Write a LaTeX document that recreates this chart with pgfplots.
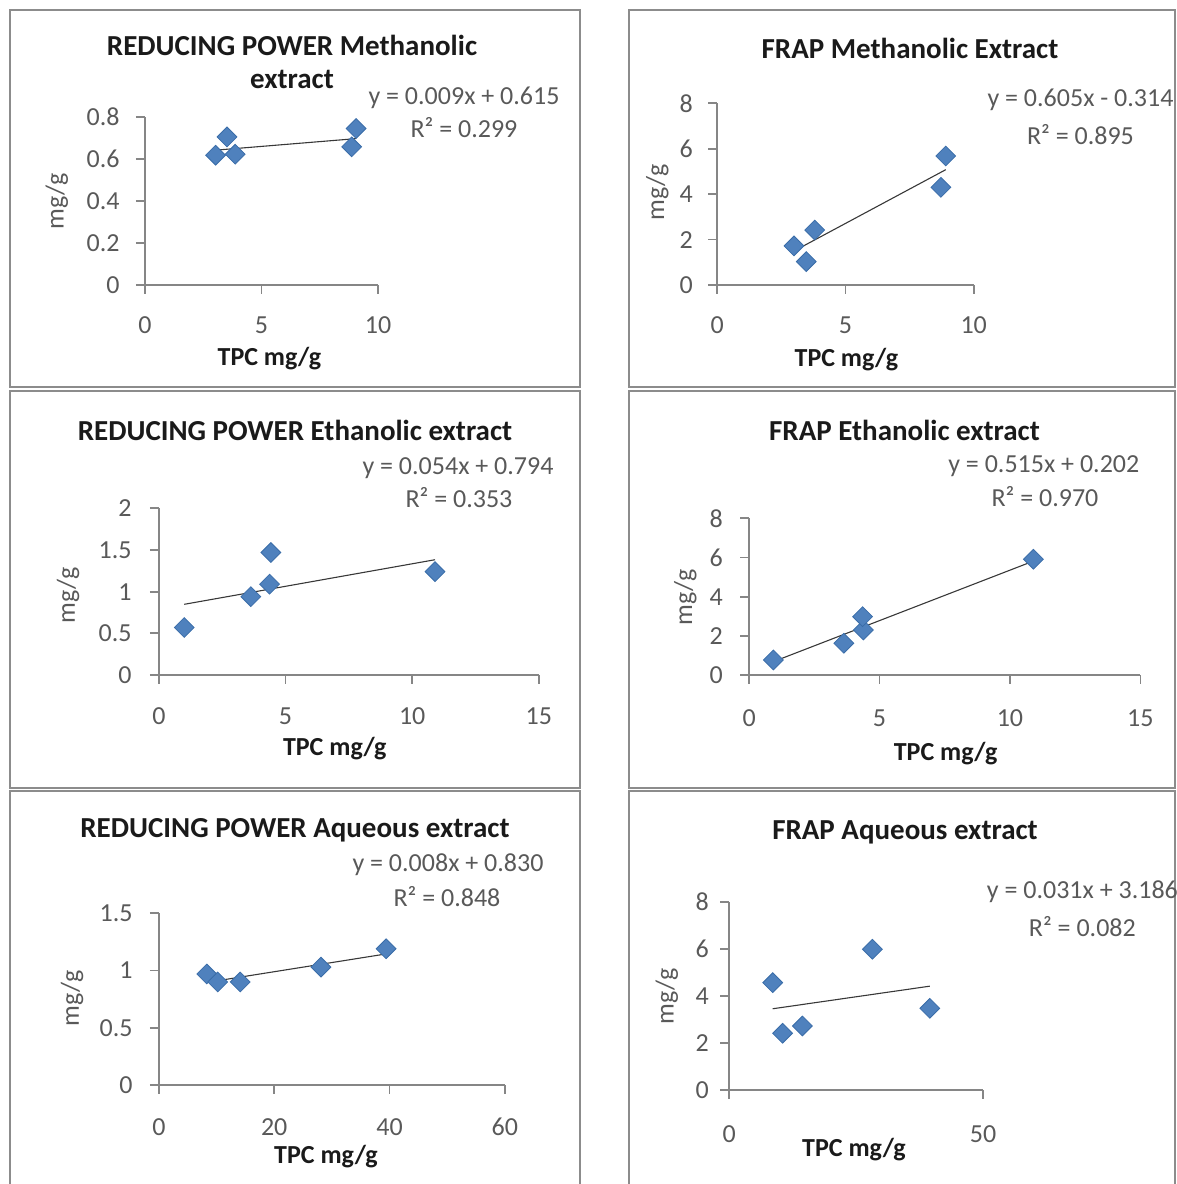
\documentclass[border=0pt]{standalone}
\usepackage{pgfplots}
\pgfplotsset{compat=1.18}
\usepackage{fontspec}
\setmainfont{Carlito}
\definecolor{axisgray}{HTML}{868686}
\definecolor{tickgray}{HTML}{595959}
\definecolor{framegray}{HTML}{8C8C8C}
\definecolor{markblue}{HTML}{4F81BD}
\definecolor{markedge}{HTML}{3A6DA8}
\definecolor{titleblack}{HTML}{1A1A1A}
\definecolor{trendcol}{HTML}{383838}
\newcommand\tf{\fontsize{13}{15}\selectfont}
\newcommand\ttf{\fontsize{14.5}{17}\selectfont\bfseries}
\pgfplotsset{
  panel/.style={
    scale only axis, anchor=south west, clip=false,
    axis x line*=bottom, axis y line*=left,
    axis line style={draw=axisgray, line width=0.9pt, -},
    every outer x axis line/.append style={-},
    every outer y axis line/.append style={-},
    tick align=outside, major tick length=4.5pt,
    tick style={draw=axisgray, line width=0.9pt},
    /pgf/number format/assume math mode=true,
    tick label style={font=\tf, text=tickgray},
    xticklabel style={anchor=center},
    yticklabel style={anchor=east, inner sep=0pt},
    xmin=0, ymin=0,
  },
  pts/.style={only marks, mark=square*, mark size=3.5pt,
    mark options={rotate=45, fill=markblue, draw=markedge, line width=0.4pt}},
  trend/.style={trendcol, line width=0.55pt, no marks},
}
\begin{document}
\begin{tikzpicture}
\useasboundingbox (0,0) rectangle (588.5pt,592pt);
\clip (0,0) rectangle (588.5pt,592pt);
% panel frames
\draw[framegray, line width=1.2pt] (5pt,398.5pt) rectangle (290pt,587pt);
\draw[framegray, line width=1.2pt] (314.5pt,398.5pt) rectangle (587.5pt,587pt);
\draw[framegray, line width=1.2pt] (5pt,198pt) rectangle (290pt,396.5pt);
\draw[framegray, line width=1.2pt] (314.5pt,198pt) rectangle (587.5pt,396.5pt);
\draw[framegray, line width=1.2pt] (5pt,-5pt) rectangle (290pt,196.5pt);
\draw[framegray, line width=1.2pt] (314.5pt,-5pt) rectangle (587.5pt,196.5pt);

% ---------- Panel 1 ----------
\begin{axis}[panel, at={(72.5pt,449.5pt)}, width=116.5pt, height=84pt,
  xmax=10, ymax=0.8, xtick={0,5,10}, ytick={0,0.2,0.4,0.6,0.8},
  xticklabel style={yshift=-15.5pt}, yticklabel style={xshift=-8pt}]
\addplot[pts] coordinates {(3.03,0.618) (3.52,0.705) (3.87,0.623) (8.87,0.658) (9.06,0.745)};
\addplot[trend] coordinates {(3.03,0.642) (9.06,0.697)};
\end{axis}
\node[font=\ttf, text=titleblack] at (146pt,569.5pt) {REDUCING POWER Methanolic};
\node[font=\ttf, text=titleblack] at (146pt,552.5pt) {extract};
\node[font=\tf, text=tickgray] at (232pt,543pt) {y = 0.009x + 0.615};
\node[font=\tf, text=tickgray] at (232pt,528pt) {R² = 0.299};
\node[font=\tf\bfseries, text=titleblack] at (134.7pt,412.8pt) {TPC mg/g};
\node[font=\tf, text=tickgray, rotate=90] at (28.4pt,491.2pt) {mg/g};

% ---------- Panel 2 ----------
\begin{axis}[panel, at={(358.65pt,449.5pt)}, width=128.2pt, height=90.85pt,
  xmax=10, ymax=8, xtick={0,5,10}, ytick={0,2,4,6,8},
  xticklabel style={yshift=-15.5pt}, yticklabel style={xshift=-7.5pt}]
\addplot[pts] coordinates {(2.99,1.72) (3.47,1.03) (3.80,2.42) (8.72,4.30) (8.91,5.68)};
\addplot[trend] coordinates {(2.99,1.495) (8.91,5.077)};
\end{axis}
\node[font=\ttf, text=titleblack] at (455pt,568pt) {FRAP Methanolic Extract};
\node[font=\tf, text=tickgray] at (540.25pt,542pt) {y = 0.605x - 0.314};
\node[font=\tf, text=tickgray] at (540.25pt,524.5pt) {R² = 0.895};
\node[font=\tf\bfseries, text=titleblack] at (423.2pt,412pt) {TPC mg/g};
\node[font=\tf, text=tickgray, rotate=90] at (328.7pt,495.8pt) {mg/g};

% ---------- Panel 3 ----------
\begin{axis}[panel, at={(79.45pt,254.5pt)}, width=190pt, height=83.35pt,
  xmax=15, ymax=2, xtick={0,5,10,15}, ytick={0,0.5,1,1.5,2},
  xticklabel style={yshift=-16pt}, yticklabel style={xshift=-9pt}]
\addplot[pts] coordinates {(1.0,0.57) (3.63,0.94) (4.37,1.09) (4.42,1.47) (10.9,1.24)};
\addplot[trend] coordinates {(1.0,0.848) (10.9,1.383)};
\end{axis}
\node[font=\ttf, text=titleblack] at (147.5pt,377pt) {REDUCING POWER Ethanolic extract};
\node[font=\tf, text=tickgray] at (229pt,358pt) {y = 0.054x + 0.794};
\node[font=\tf, text=tickgray] at (229.5pt,343pt) {R² = 0.353};
\node[font=\tf\bfseries, text=titleblack] at (167.4pt,217.8pt) {TPC mg/g};
\node[font=\tf, text=tickgray, rotate=90] at (34pt,294.2pt) {mg/g};

% ---------- Panel 4 ----------
\begin{axis}[panel, at={(374.55pt,254.5pt)}, width=195.65pt, height=78.35pt,
  xmax=15, ymax=8, xtick={0,5,10,15}, ytick={0,2,4,6,8},
  xticklabel style={yshift=-17pt}, yticklabel style={xshift=-8.5pt}]
\addplot[pts] coordinates {(0.93,0.77) (3.63,1.62) (4.38,2.30) (4.35,2.98) (10.9,5.91)};
\addplot[trend] coordinates {(0.93,0.681) (10.9,5.816)};
\end{axis}
\node[font=\ttf, text=titleblack] at (452.25pt,377pt) {FRAP Ethanolic extract};
\node[font=\tf, text=tickgray] at (521.9pt,358.7pt) {y = 0.515x + 0.202};
\node[font=\tf, text=tickgray] at (522.5pt,343.7pt) {R² = 0.970};
\node[font=\tf\bfseries, text=titleblack] at (472.8pt,215.3pt) {TPC mg/g};
\node[font=\tf, text=tickgray, rotate=90] at (342.7pt,293.3pt) {mg/g};

% ---------- Panel 5 ----------
\begin{axis}[panel, at={(79.45pt,49.5pt)}, width=173pt, height=85.85pt,
  xmax=60, ymax=1.5, xtick={0,20,40,60}, ytick={0,0.5,1,1.5},
  xticklabel style={yshift=-16.5pt}, yticklabel style={xshift=-8.5pt}]
\addplot[pts] coordinates {(8.3,0.97) (10.2,0.90) (14.1,0.90) (28.1,1.03) (39.4,1.19)};
\addplot[trend] coordinates {(8.3,0.896) (39.4,1.145)};
\end{axis}
\node[font=\ttf, text=titleblack] at (147.5pt,177pt) {REDUCING POWER Aqueous extract};
\node[font=\tf, text=tickgray] at (224pt,159.5pt) {y = 0.008x + 0.830};
\node[font=\tf, text=tickgray] at (223.5pt,143.7pt) {R² = 0.848};
\node[font=\tf\bfseries, text=titleblack] at (163pt,13.7pt) {TPC mg/g};
\node[font=\tf, text=tickgray, rotate=90] at (36pt,92.8pt) {mg/g};

% ---------- Panel 6 ----------
\begin{axis}[panel, at={(364.65pt,47pt)}, width=126.9pt, height=94.15pt,
  xmax=50, ymax=8, xtick={0,50}, ytick={0,2,4,6,8},
  xticklabel style={yshift=-17.5pt}, yticklabel style={xshift=-5.5pt}]
\addplot[pts] coordinates {(8.55,4.56) (10.5,2.41) (14.4,2.72) (28.2,5.98) (39.5,3.47)};
\addplot[trend] coordinates {(8.55,3.451) (39.5,4.411)};
\end{axis}
\node[font=\ttf, text=titleblack] at (452.5pt,176pt) {FRAP Aqueous extract};
\node[font=\tf, text=tickgray] at (541.2pt,146.2pt) {y = 0.031x + 3.186};
\node[font=\tf, text=tickgray] at (541.2pt,128.7pt) {R² = 0.082};
\node[font=\tf\bfseries, text=titleblack] at (427pt,17pt) {TPC mg/g};
\node[font=\tf, text=tickgray, rotate=90] at (333.4pt,93.7pt) {mg/g};
\end{tikzpicture}
\end{document}
